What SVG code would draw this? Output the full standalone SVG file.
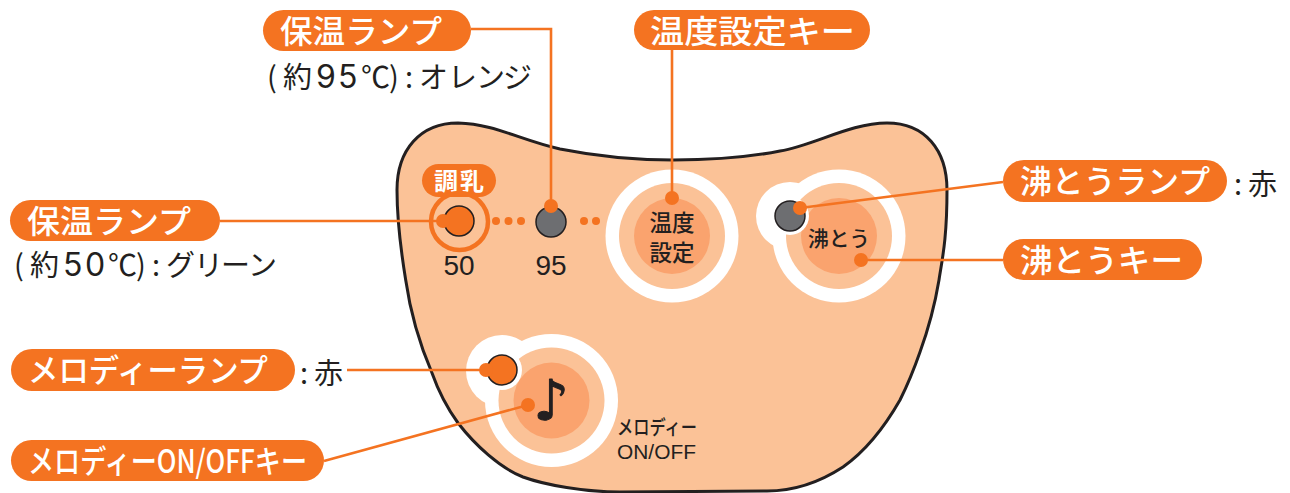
<svg xmlns="http://www.w3.org/2000/svg" width="1290" height="493" viewBox="0 0 1290 493">
<style>
.o{fill:#f47321}
.w{fill:#fff}
.p{fill:#fbc297}
.d{fill:#faa36e}
text{font-family:"Noto Sans CJK JP","Noto Sans",sans-serif}
.lb{fill:#fff;font-size:32px;font-weight:500}
.t{fill:#231f20}
.dg{font-family:Inter,"Liberation Sans",sans-serif;font-size:32px}
.n{fill:#231f20;font-family:"Liberation Sans",Arial,sans-serif;font-size:28px}
.l{fill:none;stroke:#f47321;stroke-width:2.6}
.lamp{stroke:#231f20;stroke-width:1.5}
</style>
<g id="panel">
<path d="M458 123C495 124 520 140 560 149C600 157 640 160 673 160C710 160 745 158 780 151C815 145 850 123 887 123C925 123 947 150 947 190C947 240 942 260 939 280C934 310 928 330 920 352C912 375 905 390 900 400C880 435 860 455 843 467C820 482 795 491 767 491L620 492C585 492 545 485 523 477C500 468 475 445 458 423C445 405 438 390 432 373C420 345 410 310 405.700 280C400 245 397 215 397 190C397 150 420 123 458 123Z" class="p" stroke="#231f20" stroke-width="3"/>
</g>
<g id="mode-50">
<rect x="422" y="164" width="74" height="33" rx="16.500" class="o"/>
<text x="459" y="190" text-anchor="middle" font-size="24" font-weight="700" fill="#fff" textLength="50" lengthAdjust="spacing">調乳</text>
<circle cx="459.500" cy="221.500" r="28.500" fill="none" stroke="#f47321" stroke-width="4.500"/>
<circle cx="459" cy="221" r="15" class="o lamp"/>
<text x="459" y="275" text-anchor="middle" class="n">50</text>
</g>
<g id="dots" class="o">
<circle cx="496" cy="221" r="4"/><circle cx="508.500" cy="221" r="4"/><circle cx="521" cy="221" r="4"/>
<circle cx="584" cy="221" r="4"/><circle cx="596" cy="221" r="4"/>
</g>
<g id="mode-95">
<circle cx="551" cy="222" r="15" fill="#6d6e71" class="lamp"/>
<text x="551" y="275" text-anchor="middle" class="n">95</text>
</g>
<g id="temp-key">
<circle cx="672" cy="236" r="66.500" class="w"/><circle cx="672" cy="236" r="53" class="p"/><circle cx="672" cy="236" r="38" class="d"/>
<text x="672" y="231" text-anchor="middle" font-size="22.500" font-weight="500" class="t">温度</text>
<text x="672" y="261" text-anchor="middle" font-size="22.500" font-weight="500" class="t">設定</text>
</g>
<g id="boil-key">
<circle cx="790" cy="216" r="34" class="w"/>
<circle cx="839" cy="236" r="66.500" class="w"/><circle cx="839" cy="236" r="53" class="p"/><circle cx="839" cy="236" r="38" class="d"/>
<circle cx="790" cy="216" r="19" class="w"/>
<circle cx="790" cy="216" r="15" fill="#6d6e71" class="lamp"/>
<text x="839" y="246" text-anchor="middle" font-size="21" font-weight="500" class="t" textLength="62" lengthAdjust="spacingAndGlyphs">沸とう</text>
</g>
<g id="melody-key">
<circle cx="502" cy="371" r="36" class="w"/>
<circle cx="551.500" cy="400.500" r="66.500" class="w"/><circle cx="551.500" cy="400.500" r="53" class="p"/><circle cx="551.500" cy="400.500" r="38" class="d"/>
<circle cx="502" cy="370" r="20" class="w"/>
<circle cx="502" cy="370" r="15" class="o lamp"/>
<text x="551" y="420" text-anchor="middle" font-size="56" class="t" stroke="#231f20" stroke-width="1" style="font-family:'DejaVu Sans',sans-serif">♪</text>
<text x="617" y="435" font-size="20" font-weight="500" class="t" textLength="80" lengthAdjust="spacingAndGlyphs">メロディー</text>
<text x="617" y="459" font-size="21" class="t" style="font-family:'Liberation Sans',sans-serif" textLength="79" lengthAdjust="spacingAndGlyphs">ON/OFF</text>
</g>
<g id="connectors">
<path class="l" d="M471 29H551V206"/>
<path class="l" d="M672 49V198"/>
<path class="l" d="M220 221H443"/>
<path class="l" d="M1003 182L800 208"/>
<path class="l" d="M1003 260H861"/>
<path class="l" d="M347 370H487"/>
<path class="l" d="M324 461L528 405"/>
<g class="o">
<circle cx="551" cy="206" r="7"/><circle cx="672" cy="198" r="7"/><circle cx="443" cy="221" r="7"/>
<circle cx="800" cy="208" r="7"/><circle cx="861" cy="260" r="7"/><circle cx="486" cy="370" r="7"/><circle cx="528" cy="405" r="7"/>
</g>
</g>
<g id="label-keep95">
<rect x="263" y="10" width="208" height="41" rx="20.500" class="o"/>
<text x="280" y="43" class="lb" textLength="162" lengthAdjust="spacingAndGlyphs">保温ランプ</text>
<text x="267 283 316 338 361 389 405 419 448 476 503" y="88" font-size="29" class="t">(約<tspan class="dg">95</tspan>℃):オレンジ</text>
</g>
<g id="label-temp">
<rect x="634" y="10" width="236" height="40" rx="20" class="o"/>
<text x="650" y="43" class="lb" textLength="205" lengthAdjust="spacingAndGlyphs">温度設定キー</text>
</g>
<g id="label-keep50">
<rect x="10" y="200" width="210" height="41" rx="20.500" class="o"/>
<text x="27" y="233" class="lb" textLength="164" lengthAdjust="spacingAndGlyphs">保温ランプ</text>
<text x="14 30 63 85 108 136 152 166 194 221 248" y="276" font-size="29" class="t">(約<tspan class="dg">50</tspan>℃):グリーン</text>
</g>
<g id="label-boil-lamp">
<rect x="1003" y="160" width="224" height="42" rx="21" class="o"/>
<text x="1020" y="193" class="lb" textLength="190" lengthAdjust="spacingAndGlyphs">沸とうランプ</text>
<text x="1234 1248" y="195" font-size="29" class="t">:赤</text>
</g>
<g id="label-boil-key">
<rect x="1003" y="239" width="199" height="41" rx="20.500" class="o"/>
<text x="1020" y="272" class="lb" textLength="163" lengthAdjust="spacingAndGlyphs">沸とうキー</text>
</g>
<g id="label-melody-lamp">
<rect x="11" y="349" width="284" height="42" rx="21" class="o"/>
<text x="28" y="382" class="lb" textLength="240" lengthAdjust="spacingAndGlyphs">メロディーランプ</text>
<text x="300 314" y="384" font-size="29" class="t">:赤</text>
</g>
<g id="label-melody-key">
<rect x="11" y="440" width="313" height="41" rx="20.500" class="o"/>
<text x="28" y="473" class="lb" textLength="279" lengthAdjust="spacingAndGlyphs">メロディーON/OFFキー</text>
</g>
</svg>
